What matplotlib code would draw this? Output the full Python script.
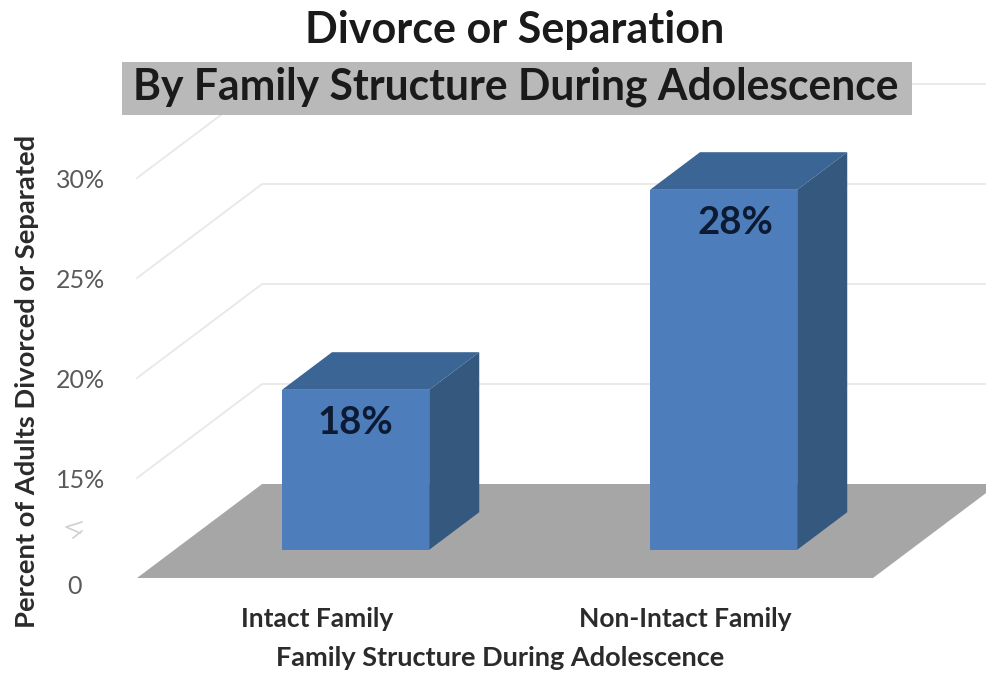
import matplotlib
matplotlib.use('Agg')
import matplotlib.pyplot as plt
from matplotlib.lines import Line2D
from matplotlib.patches import Rectangle
from matplotlib.transforms import ScaledTranslation

W, H = 986, 675

categories = ['Intact Family', 'Non-Intact Family']
values = [18, 28]
value_labels = ['18%', '28%']

# axis is broken: the position of 10 on the scale is labelled 0
grid_values = [15, 20, 25, 30]
tick_values = [10, 15, 20, 25, 30]
tick_labels = ['0', '15%', '20%', '25%', '30%']
y_base = 10

plt.rcParams['font.family'] = ['Lato', 'DejaVu Sans']

# 3d look, depth 1 is the back wall
DX = 0.34  # category units
DY = 4.7   # percent units
BAR_W = 0.40
D0, D1 = 0.3, 0.7
LABEL_SHIFT = [0.0, 0.033]  # the 28% label sits right of centre


def proj(x, v, d):
    return x + d * DX, v + d * DY


def face(ax, pts, color, z):
    xs = [p[0] for p in pts]
    ys = [p[1] for p in pts]
    ax.fill(xs, ys, color=color, lw=0, zorder=z)


fig = plt.figure(figsize=(W / 100, H / 100), dpi=100, facecolor='white')
ax = fig.add_axes([135 / W, (H - 578) / H, (W - 135) / W, 578 / H])
ax.set_xlim(-2 / 368, 849 / 368)
ax.set_ylim(y_base, y_base + 578 / 20)
for s in ax.spines.values():
    s.set_visible(False)
ax.patch.set_visible(False)

# walls
for v in grid_values:
    x0, y0 = proj(0, v, 0)
    x1, y1 = proj(0, v, 1)
    x2, y2 = proj(3, v, 1)
    ax.plot([x0, x1, x2], [y0, y1, y2], color='#e8e8e8', lw=1.3, zorder=1)

# floor
face(ax, [proj(0, y_base, 0), proj(2, y_base, 0), proj(2, y_base, 1), proj(0, y_base, 1)], '#a6a6a6', 2)

# bars
for i, v in enumerate(values):
    l = i + 0.5 - BAR_W / 2 - 0.008
    r = l + BAR_W
    face(ax, [proj(l, y_base, D0), proj(r, y_base, D0), proj(r, v, D0), proj(l, v, D0)], '#4d7ebb', 3)
    face(ax, [proj(l, v, D0), proj(r, v, D0), proj(r, v, D1), proj(l, v, D1)], '#3b6594', 3)
    face(ax, [proj(r, y_base, D0), proj(r, y_base, D1), proj(r, v, D1), proj(r, v, D0)], '#35587f', 3)
    cx, cy = proj((l + r) / 2 + LABEL_SHIFT[i], v - 1.65, D0)
    ax.text(cx, cy, value_labels[i], ha='center', va='center', fontsize=27.5, fontweight='bold',
            color='#0d1a33', zorder=4)

# axes text
ax.set_yticks(tick_values)
ax.set_yticklabels(tick_labels, fontsize=18, color='#5a5a5a')
ax.set_xticks([i + 0.5 - 0.01 for i in range(len(categories))])
ax.set_xticklabels(categories, fontsize=19, fontweight='bold', color='#2b2b2b')
ax.tick_params(axis='y', length=0, pad=21.5)
ax.tick_params(axis='x', length=0, pad=21)
zero = ax.get_yticklabels()[0]
zero.set_transform(zero.get_transform() + ScaledTranslation(-23 / 100, -7 / 100, fig.dpi_scale_trans))

fig.text(500 / W, 1 - 658 / H, 'Family Structure During Adolescence', ha='center', va='center',
         fontsize=19.5, fontweight='bold', color='#2b2b2b')
fig.text(27 / W, 1 - 381 / H, 'Percent of Adults Divorced or Separated', rotation=90, ha='center', va='center',
         fontsize=19.7, fontweight='bold', color='#2b2b2b')

# title
fig.add_artist(Rectangle((122 / W, 1 - 115 / H), 790 / W, 53 / H, transform=fig.transFigure,
                         facecolor='#b9b9b9', edgecolor='none', zorder=1))
fig.text(515 / W, 1 - 30 / H, 'Divorce or Separation', ha='center', va='center',
         fontsize=31, fontweight='bold', color='#1a1a1a')
fig.text(516 / W, 1 - 87 / H, 'By Family Structure During Adolescence', ha='center', va='center',
         fontsize=30.7, fontweight='bold', color='#1a1a1a')

# axis break mark
for px, py in [([82, 66, 80], [522, 527, 533]), ([82, 73], [531, 538])]:
    fig.add_artist(Line2D([a / W for a in px], [1 - b / H for b in py], color='#d0d0d0', lw=1.2,
                          transform=fig.transFigure))

fig.savefig('out.png', dpi=100)
